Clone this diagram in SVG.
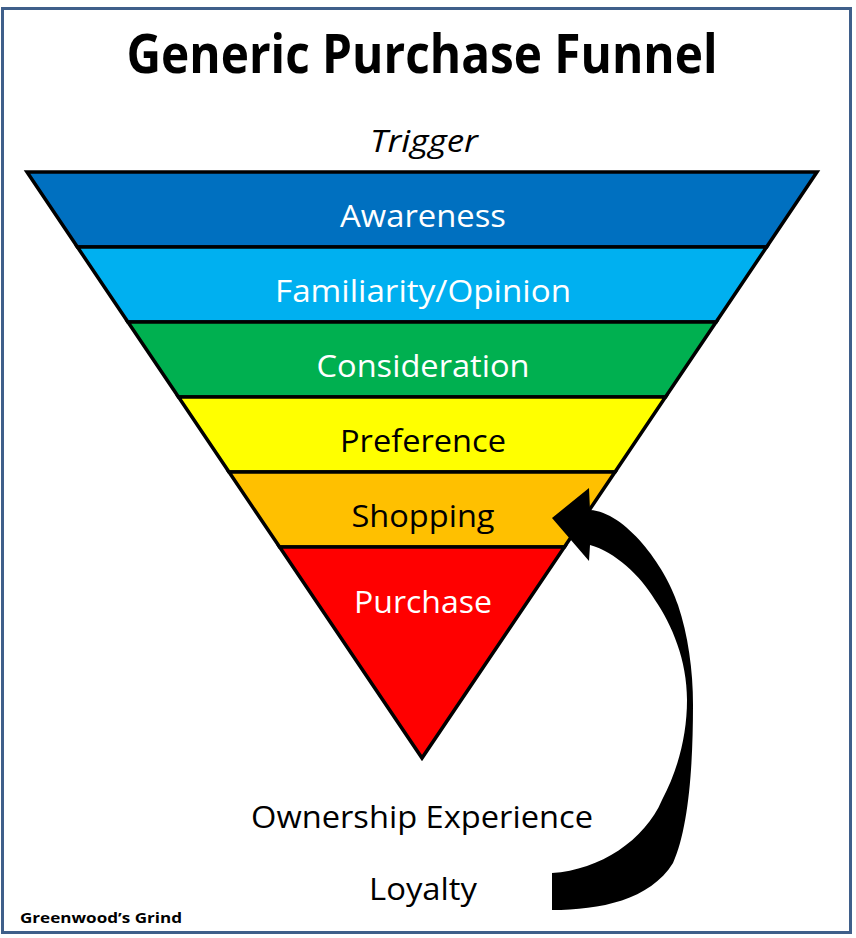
<svg xmlns="http://www.w3.org/2000/svg" width="856" height="938" viewBox="0 0 856 938">
<style>
.t{font-family:"Open Sans","Noto Sans","Liberation Sans",sans-serif;text-anchor:middle;font-size:31px}
.w{fill:#fff}
.k{fill:#000}
.band{stroke:#000;stroke-width:3.5;stroke-linejoin:miter}
</style>
<rect x="2.5" y="8.5" width="848" height="924" fill="#fff" stroke="#3f5f8a" stroke-width="3"/>
<text x="422" y="73" class="t" style="font-weight:bold;font-size:53px" textLength="591" lengthAdjust="spacingAndGlyphs">Generic Purchase Funnel</text>
<text x="424" y="152" class="t" style="font-style:italic" textLength="108" lengthAdjust="spacingAndGlyphs">Trigger</text>
<g id="awareness">
<polygon class="band" fill="#0070C0" points="27,172 817,172 766.6,247 77.4,247"/>
<text x="423" y="227" class="t w" textLength="166" lengthAdjust="spacingAndGlyphs">Awareness</text>
</g>
<g id="familiarity">
<polygon class="band" fill="#00B0F0" points="77.4,247 766.6,247 716.1,322 127.9,322"/>
<text x="423" y="302" class="t w" textLength="296" lengthAdjust="spacingAndGlyphs">Familiarity/Opinion</text>
</g>
<g id="consideration">
<polygon class="band" fill="#00B050" points="127.9,322 716.1,322 665.5,397 178.5,397"/>
<text x="423" y="377" class="t w" textLength="213" lengthAdjust="spacingAndGlyphs">Consideration</text>
</g>
<g id="preference">
<polygon class="band" fill="#FFFF00" points="178.5,397 665.5,397 615,472 229,472"/>
<text x="423" y="452" class="t k" textLength="166" lengthAdjust="spacingAndGlyphs">Preference</text>
</g>
<g id="shopping">
<polygon class="band" fill="#FFC000" points="229,472 615,472 564.4,547 279.6,547"/>
<text x="423" y="527" class="t k" textLength="143" lengthAdjust="spacingAndGlyphs">Shopping</text>
</g>
<g id="purchase">
<polygon class="band" fill="#FF0000" points="279.6,547 564.4,547 422,758"/>
<text x="423" y="613" class="t w" textLength="138" lengthAdjust="spacingAndGlyphs">Purchase</text>
</g>
<g id="ownership">
<text x="422" y="828" class="t k" textLength="342" lengthAdjust="spacingAndGlyphs">Ownership Experience</text>
</g>
<g id="loyalty">
<text x="423" y="900" class="t k" textLength="108" lengthAdjust="spacingAndGlyphs">Loyalty</text>
</g>
<g id="connectors">
<path fill="#000" d="M552,518 L589,488 L590,510 C625,512 665,565 678,605 C688,635 693,670 693,705 C693,770 688,830 673,863 C650,900 600,910 552,910 L552,873 C600,870 645,840 662,800 C678,770 687,735 687,700 C687,660 672,625 655,600 C640,575 615,552 590,545 L589,561 Z"/>
</g>
<text x="20" y="923" style="font-family:'Open Sans','Liberation Sans',sans-serif;font-weight:bold;font-size:15px" textLength="162" lengthAdjust="spacingAndGlyphs">Greenwood’s Grind</text>
</svg>
